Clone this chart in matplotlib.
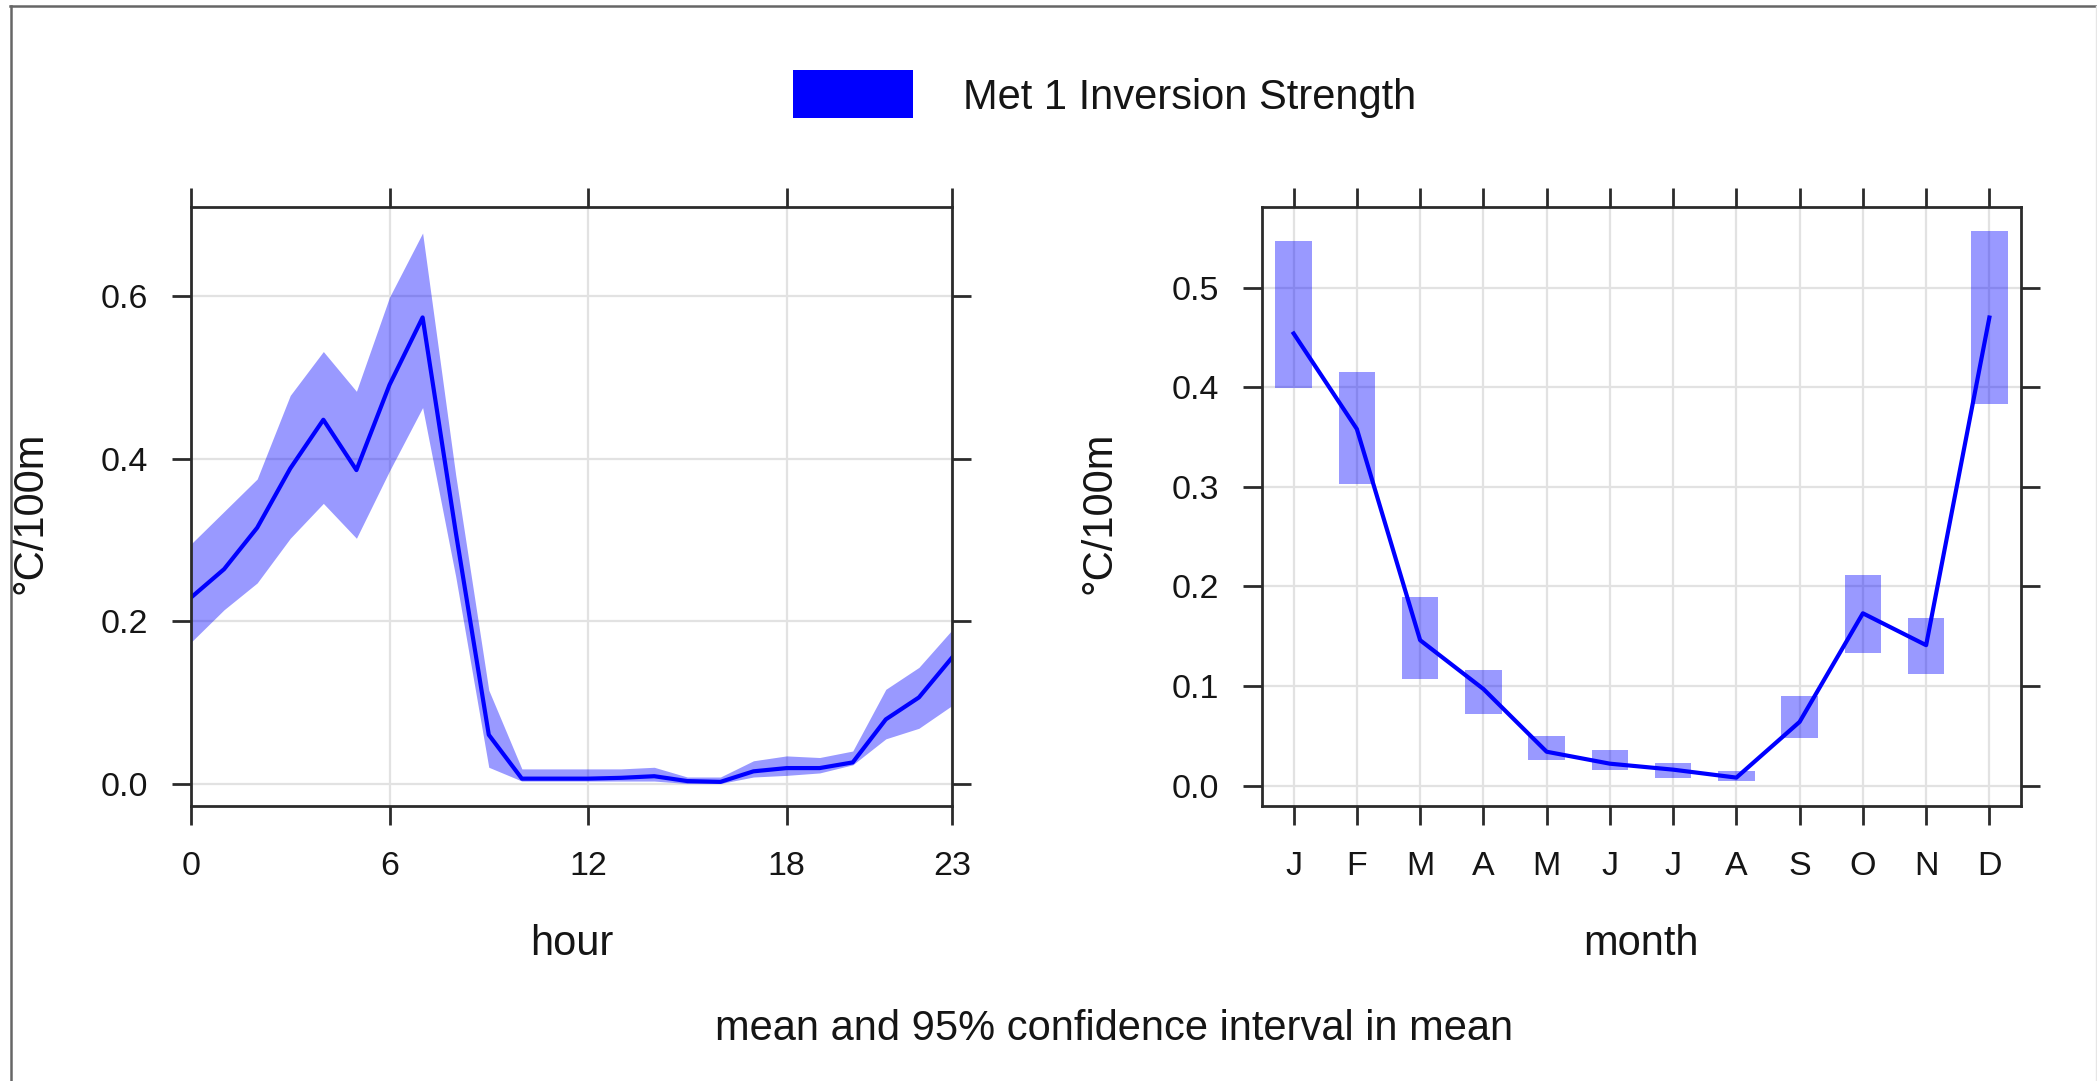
import matplotlib
matplotlib.use("Agg")
import matplotlib.pyplot as plt
from matplotlib.lines import Line2D
from matplotlib.patches import Rectangle
import numpy as np

plt.rcParams['font.family'] = ['Liberation Sans', 'DejaVu Sans']

# ---------------- data ----------------
hours = list(range(24))
hour_mean = [0.229, 0.264, 0.315, 0.388, 0.448, 0.386, 0.491, 0.574, 0.310, 0.060,
             0.006, 0.006, 0.006, 0.007, 0.009, 0.003, 0.002, 0.015, 0.019, 0.019,
             0.026, 0.079, 0.106, 0.155]
hour_upper = [0.295, 0.335, 0.375, 0.478, 0.532, 0.483, 0.599, 0.678, 0.380, 0.115,
              0.018, 0.018, 0.018, 0.018, 0.020, 0.008, 0.008, 0.028, 0.034, 0.032,
              0.040, 0.116, 0.143, 0.189]
hour_lower = [0.174, 0.214, 0.247, 0.302, 0.345, 0.302, 0.385, 0.463, 0.255, 0.020,
              0.003, 0.003, 0.003, 0.003, 0.003, 0.000, 0.000, 0.008, 0.010, 0.013,
              0.023, 0.055, 0.068, 0.096]
hour_ticks = [0, 6, 12, 18, 23]
hour_yticks = [0.0, 0.2, 0.4, 0.6]

months = list(range(1, 13))
month_labels = ['J', 'F', 'M', 'A', 'M', 'J', 'J', 'A', 'S', 'O', 'N', 'D']
month_mean = [0.454, 0.358, 0.146, 0.097, 0.034, 0.022, 0.016, 0.008, 0.064, 0.173, 0.141, 0.470]
month_upper = [0.547, 0.415, 0.189, 0.116, 0.050, 0.036, 0.023, 0.015, 0.090, 0.211, 0.168, 0.557]
month_lower = [0.399, 0.303, 0.107, 0.072, 0.026, 0.016, 0.008, 0.005, 0.048, 0.133, 0.112, 0.383]
month_yticks = [0.0, 0.1, 0.2, 0.3, 0.4, 0.5]

series_name = "Met 1 Inversion Strength"
y_label = "°C/100m"
subtitle = "mean and 95% confidence interval in mean"

# ---------------- style ----------------
W, H = 2097, 1081
fig = plt.figure(figsize=(W / 100, H / 100), dpi=100)
fig.patch.set_facecolor('white')

axis_col = '#2b2b2b'
grid_col = '#e2e2e2'
text_col = '#151515'
blue = '#0000ff'
band_alpha = 0.4
tick_fs = 24.5
label_fs = 30

def px(x0, y0, x1, y1):
    return [x0 / W, 1 - y1 / H, (x1 - x0) / W, (y1 - y0) / H]

ax1 = fig.add_axes(px(191, 207, 952, 806))
ax2 = fig.add_axes(px(1262, 207, 2021, 806))

for ax in (ax1, ax2):
    for s in ax.spines.values():
        s.set_color(axis_col)
        s.set_linewidth(2.0)
    ax.tick_params(direction='out', length=13.7, width=2.0, color=axis_col,
                   top=True, right=True, labeltop=False, labelright=False,
                   labelsize=tick_fs, labelcolor=text_col)
    ax.tick_params(axis='y', pad=17)
    ax.tick_params(axis='x', pad=19)
    ax.grid(True, color=grid_col, linewidth=1.6)
    ax.set_axisbelow(True)

# left panel: hour
ax1.fill_between(hours, hour_lower, hour_upper, color=blue, alpha=band_alpha,
                 linewidth=0)
ax1.plot(hours, hour_mean, color=blue, linewidth=3.0)
ax1.set_xlim(0, 23)
ax1.set_ylim(-0.0277, 0.710)
ax1.set_xticks(hour_ticks)
ax1.set_xticklabels([str(h) for h in hour_ticks])
ax1.set_yticks(hour_yticks)
ax1.set_yticklabels([f"{v:.1f}" for v in hour_yticks])

# right panel: month
heights = [u - l for u, l in zip(month_upper, month_lower)]
ax2.bar(months, heights, bottom=month_lower, width=0.58, color=blue,
        alpha=band_alpha, linewidth=0)
ax2.plot(months, month_mean, color=blue, linewidth=3.0)
ax2.set_xlim(0.5, 12.5)
ax2.set_ylim(-0.0205, 0.581)
ax2.set_xticks(months)
ax2.set_xticklabels(month_labels)
ax2.set_yticks(month_yticks)
ax2.set_yticklabels([f"{v:.1f}" for v in month_yticks])

# axis labels
ax1.set_ylabel(y_label, fontsize=label_fs, color=text_col)
ax1.yaxis.set_label_coords(-0.185, 0.49)
ax2.set_ylabel(y_label, fontsize=label_fs, color=text_col)
ax2.yaxis.set_label_coords(-0.188, 0.49)
fig.text((191 + 952) / 2 / W, 1 - 955 / H, "hour", fontsize=label_fs,
         ha='center', va='baseline', color=text_col)
fig.text((1262 + 2021) / 2 / W, 1 - 955 / H, "month", fontsize=label_fs,
         ha='center', va='baseline', color=text_col)
fig.text(0.5312, 1 - 1040 / H, subtitle, fontsize=label_fs,
         ha='center', va='baseline', color=text_col)

# legend (key)
fig.patches.append(Rectangle((793 / W, 1 - 118 / H), 120 / W, 48 / H,
                             transform=fig.transFigure, facecolor=blue,
                             edgecolor='none'))
fig.text(963 / W, 1 - 109 / H, series_name, fontsize=label_fs,
         ha='left', va='baseline', color=text_col)

# outer frame (top and left edges)
fig.lines.append(Line2D([10 / W, 1.0], [1 - 6 / H, 1 - 6 / H],
                        transform=fig.transFigure, color='#666666', linewidth=1.8))
fig.lines.append(Line2D([11 / W, 11 / W], [0.0, 1 - 6 / H],
                        transform=fig.transFigure, color='#666666', linewidth=1.8))
fig.lines.append(Line2D([2095.5 / W, 2095.5 / W], [0.0, 1 - 6 / H],
                        transform=fig.transFigure, color='#e6e6e6', linewidth=1.0))

fig.savefig("out.png", dpi=100, facecolor='white')
